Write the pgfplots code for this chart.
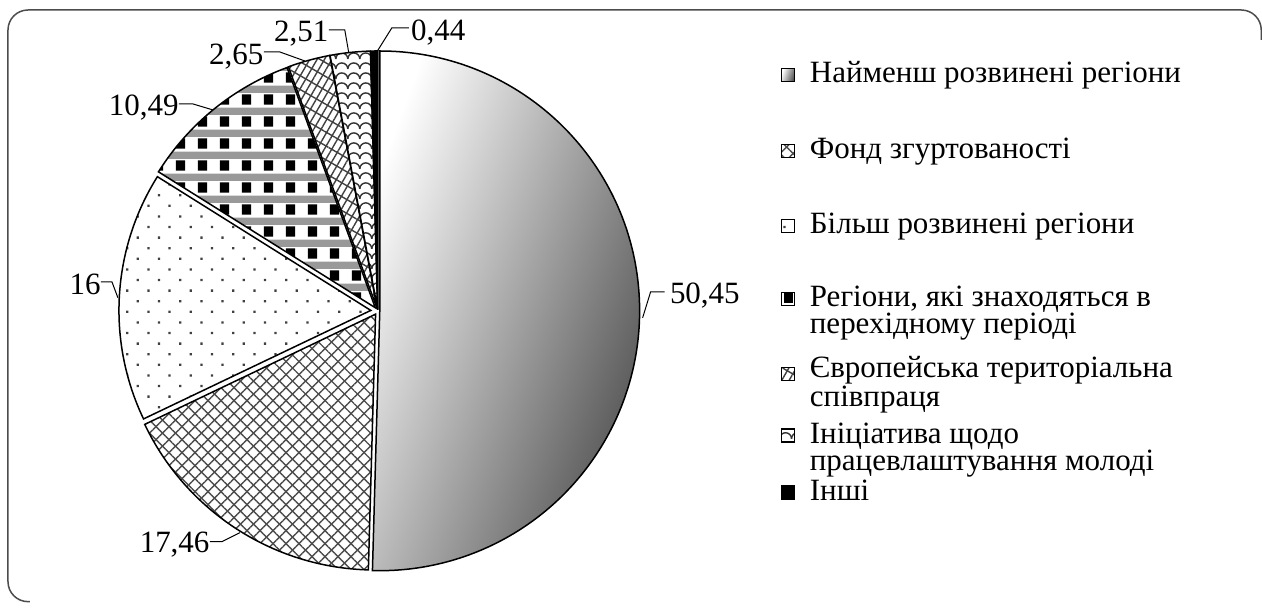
\documentclass[border=0pt]{standalone}
\usepackage{fontspec}
\setmainfont{Liberation Serif}
\newfontfamily\tnr{Liberation Serif}
\usepackage{pgfplots}
\pgfplotsset{compat=1.18}
\usetikzlibrary{patterns,patterns.meta}

\pgfdeclarepatterninherentlycolored{checkgray}{\pgfpointorigin}{\pgfpoint{10.85pt}{10.85pt}}{\pgfpoint{10.85pt}{10.85pt}}{%
  \pgfsetfillcolor{black!40}%
  \pgfpathrectangle{\pgfpoint{0pt}{7.2pt}}{\pgfpoint{10.85pt}{3.6pt}}%
  \pgfusepath{fill}%
  \pgfsetfillcolor{black}%
  \pgfpathrectangle{\pgfpoint{1.5pt}{1.2pt}}{\pgfpoint{4.6pt}{5.2pt}}%
  \pgfusepath{fill}%
}
\pgfdeclarepatternformonly{scallop}{\pgfpoint{-1pt}{-1pt}}{\pgfpoint{7pt}{7pt}}{\pgfpoint{6pt}{5pt}}{%
  \pgfsetlinewidth{0.7pt}%
  \pgfpathmoveto{\pgfpoint{0pt}{0pt}}%
  \pgfpatharc{180}{0}{3pt}%
  \pgfusepath{stroke}%
}

\tikzset{
  outl/.style={postaction={draw=black,line width=0.75pt}},
  sA/.style={top color=white, bottom color=black!68, shading angle=70, draw=black, line width=0.75pt},
  sB/.style={fill=white,
     postaction={pattern={Lines[angle=45,distance=4.6pt,line width=0.7pt]},pattern color=black!70},
     postaction={pattern={Lines[angle=-45,distance=4.6pt,line width=0.7pt]},pattern color=black!70}, outl},
  sC/.style={fill=white,
     postaction={pattern={Dots[angle=45,distance=7.5pt,radius=0.8pt]},pattern color=black!75}, outl},
  sD/.style={fill=white, postaction={pattern=checkgray}, outl},
  sE/.style={fill=white,
     postaction={pattern={Lines[angle=60,distance=3.2pt,line width=0.7pt]},pattern color=black!75},
     postaction={pattern={Lines[angle=-30,distance=6pt,line width=0.7pt]},pattern color=black!75}, outl},
  sF/.style={fill=white, postaction={pattern=scallop, pattern color=black!80}, outl},
  sG/.style={fill=black, postaction={pattern={Dots[distance=10pt,radius=0.6pt]},pattern color=white}, outl},
}

% #1 style, #2 cumulative share before the slice, #3 share, #4 radius (px), #5 explosion (px)
\newcommand{\slice}[5]{%
  \path[#1] (axis cs:{378+#5*cos(90-3.6*(#2+#3/2))},{-311+#5*sin(90-3.6*(#2+#3/2))})
    -- ++({90-3.6*#2}:{#4*0.5pt})
    arc[start angle={90-3.6*#2}, end angle={90-3.6*(#2+#3)}, radius={#4*0.5pt}] -- cycle;}
\newcommand{\lab}{\tnr\fontsize{15.5}{13.5}\selectfont}
\newcommand{\legkey}[2]{\path[#1] (axis cs:{782},{#2+6.5}) rectangle (axis cs:{795},{#2-6.5});}

\begin{document}
\begin{tikzpicture}
\begin{axis}[hide axis, disabledatascaling, x=0.5pt, y=0.5pt,
  xmin=0, xmax=1262, ymin=-609, ymax=0, clip=false, scale only axis]
\fill[white] (axis cs:0,-609) rectangle (axis cs:1262,0);
\draw[black!70, line width=0.75pt, rounded corners=10pt]
  (axis cs:30,-602) -- (axis cs:8,-602) -- (axis cs:8,-10) -- (axis cs:1262,-10) -- (axis cs:1262,-40);

% slices: share values
\slice{sA}{0}{50.45}{260}{2}
\slice{sB}{50.45}{17.46}{256}{4}
\slice{sC}{67.91}{16}{252}{7}
\slice{sD}{83.91}{10.49}{256}{4}
\slice{sE}{94.40}{2.65}{258}{2}
\slice{sF}{97.05}{2.51}{258}{2}
\slice{sG}{99.56}{0.44}{259}{1}

% data labels
\draw[line width=0.5pt] (axis cs:643,-318) -- (axis cs:651,-292) -- (axis cs:665,-292);
\node[font=\lab, anchor=west, inner sep=0pt] at (axis cs:670,-296) {50,45};
\draw[line width=0.5pt] (axis cs:240,-533) -- (axis cs:222,-542) -- (axis cs:210,-542);
\node[font=\lab, anchor=east, inner sep=0pt] at (axis cs:210,-545) {17,46};
\draw[line width=0.5pt] (axis cs:118,-298) -- (axis cs:112,-282) -- (axis cs:101,-282);
\node[font=\lab, anchor=east, inner sep=0pt] at (axis cs:101,-285) {16};
\draw[line width=0.5pt] (axis cs:213,-110) -- (axis cs:193,-104) -- (axis cs:179,-104);
\node[font=\lab, anchor=east, inner sep=0pt] at (axis cs:179,-108) {10,49};
\draw[line width=0.5pt] (axis cs:305,-61) -- (axis cs:280,-52) -- (axis cs:264,-52);
\node[font=\lab, anchor=east, inner sep=0pt] at (axis cs:264,-57) {2,65};
\draw[line width=0.5pt] (axis cs:349,-53) -- (axis cs:345,-30) -- (axis cs:329,-30);
\node[font=\lab, anchor=east, inner sep=0pt] at (axis cs:329,-34) {2,51};
\draw[line width=0.5pt] (axis cs:377,-52) -- (axis cs:392,-28) -- (axis cs:409,-28);
\node[font=\lab, anchor=west, inner sep=0pt] at (axis cs:411,-33) {0,44};

% legend
\legkey{sA}{-75}
\legkey{sB}{-151}
\legkey{sC}{-226}
\legkey{sD}{-299}
\legkey{sE}{-374}
\legkey{sF}{-436}
\legkey{sG}{-493}
\node[font=\lab, anchor=base west, inner sep=0pt] at (axis cs:810,-83) {Найменш розвинені регіони};
\node[font=\lab, anchor=base west, inner sep=0pt] at (axis cs:810,-159) {Фонд згуртованості};
\node[font=\lab, anchor=base west, inner sep=0pt] at (axis cs:810,-234) {Більш розвинені регіони};
\node[font=\lab, anchor=base west, inner sep=0pt, align=left] at (axis cs:810,-334) {Регіони, які знаходяться в\\перехідному періоді};
\node[font=\lab, anchor=base west, inner sep=0pt, align=left] at (axis cs:810,-407) {Європейська територіальна\\співпраця};
\node[font=\lab, anchor=base west, inner sep=0pt, align=left] at (axis cs:810,-471) {Ініціатива щодо\\працевлаштування молоді};
\node[font=\lab, anchor=base west, inner sep=0pt] at (axis cs:810,-501) {Інші};
\end{axis}
\end{tikzpicture}
\end{document}
